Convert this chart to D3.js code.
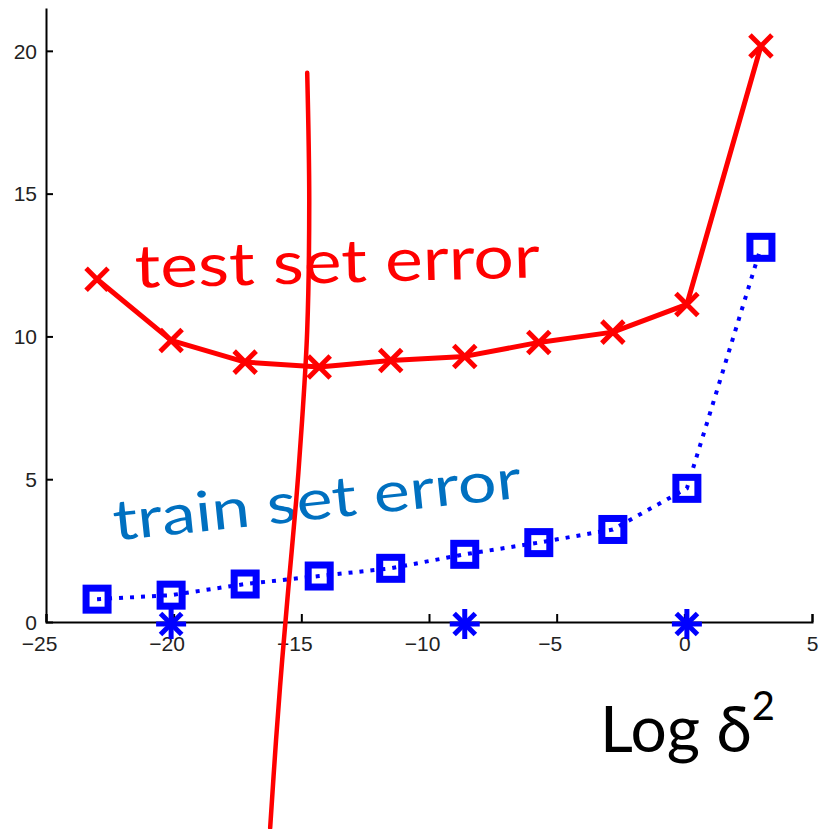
<!DOCTYPE html>
<html>
<head>
<meta charset="utf-8">
<script src="https://cdn.jsdelivr.net/npm/d3@7"></script>
<style>
  html, body { margin: 0; padding: 0; background: #fff; }
  svg { display: block; }
</style>
</head>
<body>
<div id="chart"></div>
<script>
// log(delta^2) sample positions
const logDelta2 = [-23.0, -20.1, -17.2, -14.3, -11.5, -8.6, -5.7, -2.8, 0.1, 3.0];
// test set error (red, solid, x markers)
const testError = [12.0, 9.86, 9.1, 8.93, 9.16, 9.3, 9.79, 10.15, 11.12, 20.17];
// train set error (blue, dotted, square markers)
const trainError = [0.8, 0.94, 1.33, 1.61, 1.88, 2.37, 2.78, 3.24, 4.68, 13.12];
// positions where the error is exactly zero (blue asterisks)
const zeroX = [-20.1, -8.6, 0.1];
const zeroY = [0, 0, 0];

const xTicks = [-25, -20, -15, -10, -5, 0, 5];
const yTicks = [0, 5, 10, 15, 20];

// hand-drawn divider stroke, in data units
const strokeX = [-14.77, -14.69, -14.77, -14.97, -15.2, -15.48, -15.75, -15.99, -16.22];
const strokeY = [19.23, 14.76, 10.21, 7.06, 4.27, 1.47, -1.33, -4.13, -7.2];

const W = 821, H = 829;
const x = d3.scaleLinear().domain([-25, 5]).range([46, 812]);
const y = d3.scaleLinear().domain([0, 21.5]).range([622, 8]);

const svg = d3.select("#chart").append("svg")
  .attr("width", W).attr("height", H)
  .attr("viewBox", `0 0 ${W} ${H}`);

const tickFont = "'Liberation Sans', Arial, sans-serif";

// axes
const xAxis = d3.axisBottom(x).tickValues(xTicks).tickSizeInner(-8).tickSizeOuter(-8)
  .tickPadding(17).tickFormat(d => d < 0 ? "\u2212" + Math.abs(d) : String(d));
const yAxis = d3.axisLeft(y).tickValues(yTicks).tickSizeInner(-7).tickSizeOuter(0)
  .tickPadding(9);

const gx = svg.append("g").attr("transform", `translate(0,${y(0)})`).call(xAxis);
const gy = svg.append("g").attr("transform", `translate(${x(-25)},0)`).call(yAxis);

[gx, gy].forEach(g => {
  g.select(".domain").attr("stroke", "#000").attr("stroke-width", 2);
  g.selectAll(".tick line").attr("stroke", "#000").attr("stroke-width", 2);
  g.selectAll(".tick text").attr("fill", "#222")
    .style("font-family", tickFont).style("font-size", "21px");
});
// digits centred on the tick, minus sign hanging to the left
gx.selectAll(".tick text").attr("dx", d => d < 0 ? -7 : 0).attr("dy", "0.55em");
gy.selectAll(".tick text").attr("dy", "0.35em");

const pts = (xs, ys) => xs.map((v, i) => [v, ys[i]]);
const line = d3.line().x(d => x(d[0])).y(d => y(d[1]));

// train set error: dotted blue line with open squares
const train = pts(logDelta2, trainError);
svg.append("path").datum(train).attr("d", line)
  .attr("fill", "none").attr("stroke", "#0000ff").attr("stroke-width", 4)
  .attr("stroke-dasharray", "4 7");
svg.append("g").selectAll("rect").data(train).join("rect")
  .attr("x", d => x(d[0]) - 11).attr("y", d => y(d[1]) - 11)
  .attr("width", 22).attr("height", 22)
  .attr("fill", "none").attr("stroke", "#0000ff").attr("stroke-width", 7);

// zero-error markers
const star = pts(zeroX, zeroY);
const starG = svg.append("g").selectAll("g").data(star).join("g")
  .attr("transform", d => `translate(${x(d[0])},${y(d[1]) + 2})`);
[0, 45, 90, 135].forEach(a => {
  starG.append("line")
    .attr("x1", -15).attr("x2", 15).attr("y1", 0).attr("y2", 0)
    .attr("transform", `rotate(${a})`)
    .attr("stroke", "#0000ff").attr("stroke-width", 5);
});

// test set error: solid red line with x markers
const test = pts(logDelta2, testError);
svg.append("path").datum(test).attr("d", line)
  .attr("fill", "none").attr("stroke", "#ff0000").attr("stroke-width", 5)
  .attr("stroke-linejoin", "round");
const xm = svg.append("g").selectAll("g").data(test).join("g")
  .attr("transform", d => `translate(${x(d[0])},${y(d[1])})`);
xm.append("path").attr("d", "M-11,-11L11,11M-11,11L11,-11")
  .attr("stroke", "#ff0000").attr("stroke-width", 5).attr("fill", "none");

// handwritten annotations
const handFont = "Lato, 'Noto Sans', sans-serif";
svg.append("text")
  .attr("x", x(-21.5)).attr("y", y(11.7))
  .attr("transform", `rotate(-1.5,${x(-21.5)},${y(11.7)})`)
  .attr("fill", "#ff0000").style("font-family", handFont).style("font-size", "60px")
  .attr("textLength", 405).attr("lengthAdjust", "spacingAndGlyphs")
  .text("test set error");

svg.append("text")
  .attr("x", x(-22.3)).attr("y", y(2.85))
  .attr("transform", `rotate(-6,${x(-22.3)},${y(2.85)})`)
  .attr("fill", "#0070c0").style("font-family", handFont).style("font-size", "56px")
  .attr("textLength", 410).attr("lengthAdjust", "spacingAndGlyphs")
  .text("train set error");

const lbl = svg.append("text")
  .attr("x", x(-3.3)).attr("y", y(-4.55))
  .attr("fill", "#000").style("font-family", handFont).style("font-size", "64px");
lbl.append("tspan").text("Log\u00a0\u03b4");
lbl.append("tspan").attr("dy", -32).style("font-size", "40px").text("2");

// hand-drawn red divider
svg.append("path").datum(pts(strokeX, strokeY))
  .attr("d", d3.line().x(d => x(d[0])).y(d => y(d[1])).curve(d3.curveCatmullRom))
  .attr("fill", "none").attr("stroke", "#ff0000").attr("stroke-width", 4.5)
  .attr("stroke-linecap", "round");
</script>
</body>
</html>
